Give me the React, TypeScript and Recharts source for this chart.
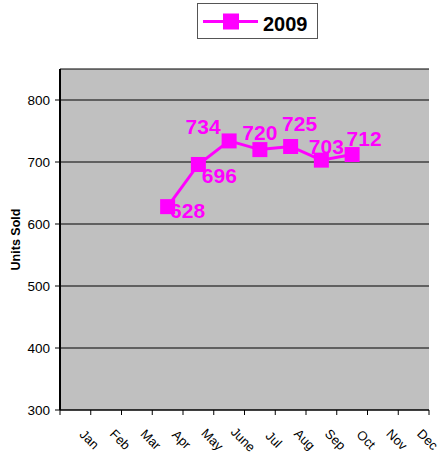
import React from 'react';
import { LineChart, Line, XAxis, YAxis, CartesianGrid, LabelList, Label } from 'recharts';

const months = ['Jan', 'Feb', 'Mar', 'Apr', 'May', 'June', 'Jul', 'Aug', 'Sep', 'Oct', 'Nov', 'Dec'];
const units2009: (number | null)[] = [null, null, null, 628, 696, 734, 720, 725, 703, 712, null, null];
const yTicks = [300, 400, 500, 600, 700, 800];
const seriesName = '2009';

// label placement (dx, dy) relative to each point — layout only
const labelOffsets: [number, number][] = [
  [0, 0], [0, 0], [0, 0],
  [20, 4], [21, 11], [-26, -14], [0, -17.5], [9, -23], [5, -14], [12, -16],
  [0, 0], [0, 0],
];

const data = months.map((m, i) => ({ month: m, v: units2009[i] }));

const W = 440;
const H = 457;
const M = { top: 69, right: 11, bottom: 0, left: 0 };
const Y_W = 60;
const X_H = 47;
const PLOT_W = W - M.left - M.right - Y_W;
const STEP = PLOT_W / months.length;
const MAGENTA = '#FF00FF';
const FONT = '"Liberation Sans", Arial, sans-serif';

const XTick = (props: any) => {
  const { x, y, payload, index } = props;
  const half = STEP / 2;
  const isLast = index === months.length - 1;
  const lx = x + 14;
  const ly = y + 29.5;
  return (
    <g>
      <line x1={x - half} x2={x - half} y1={y} y2={y + 5} stroke="#000" strokeWidth={1} />
      {isLast && <line x1={x + half} x2={x + half} y1={y} y2={y + 5} stroke="#000" strokeWidth={1} />}
      <text
        x={lx}
        y={ly}
        textAnchor="middle"
        dominantBaseline="central"
        transform={`rotate(45 ${lx} ${ly})`}
        fontFamily={FONT}
        fontSize={13}
        fill="#000"
      >
        {payload.value}
      </text>
    </g>
  );
};

const SquareDot = (props: any) => {
  const { cx, cy, payload } = props;
  if (cx == null || cy == null || payload?.v == null) return null;
  return <rect x={cx - 7.5} y={cy - 7.5} width={15} height={15} fill={MAGENTA} />;
};

const PointLabel = (props: any) => {
  const { x, y, value, index } = props;
  if (value == null || x == null || y == null) return null;
  const [dx, dy] = labelOffsets[index] || [0, 0];
  return (
    <text
      x={x + dx}
      y={y + dy}
      textAnchor="middle"
      dominantBaseline="central"
      fontFamily={FONT}
      fontWeight="bold"
      fontSize={21}
      fill={MAGENTA}
    >
      {value}
    </text>
  );
};

const YTitle = (props: any) => {
  const vb = props.viewBox || { x: 0, y: 0, width: 0, height: 0 };
  const cx = vb.x + 16;
  const cy = vb.y + vb.height / 2;
  return (
    <text
      x={cx}
      y={cy}
      textAnchor="middle"
      dominantBaseline="central"
      transform={`rotate(-90 ${cx} ${cy})`}
      fontFamily={FONT}
      fontWeight="bold"
      fontSize={12.5}
      fill="#000"
    >
      Units Sold
    </text>
  );
};

const LegendBox = () => (
  <div
    style={{
      position: 'absolute',
      left: 197,
      top: 3,
      width: 119,
      height: 34,
      border: '1px solid #555',
      background: '#fff',
      boxSizing: 'content-box',
    }}
  >
    <svg width={119} height={34} style={{ position: 'absolute', left: 0, top: 0 }}>
      <line x1={5} x2={60} y1={17.5} y2={17.5} stroke={MAGENTA} strokeWidth={3} />
      <rect x={25} y={9.5} width={16} height={16} fill={MAGENTA} />
      <text x={65} y={27} fontFamily={FONT} fontWeight="bold" fontSize={20} fill="#000">
        {seriesName}
      </text>
    </svg>
  </div>
);

export default function App() {
  return (
    <div style={{ position: 'absolute', left: 0, top: 0, width: W, height: H, background: '#fff' }}>
      <LineChart width={W} height={H} data={data} margin={M}>
        <CartesianGrid fill="#C0C0C0" stroke="#000" strokeWidth={1} vertical={false} />
        <XAxis
          dataKey="month"
          height={X_H}
          padding={{ left: STEP / 2, right: STEP / 2 }}
          interval={0}
          tickLine={false}
          tickSize={0}
          tickMargin={0}
          axisLine={{ stroke: '#000', strokeWidth: 1 }}
          tick={<XTick />}
        />
        <XAxis
          xAxisId="top"
          dataKey="month"
          orientation="top"
          height={0}
          tick={false}
          tickLine={false}
          padding={{ left: STEP / 2, right: STEP / 2 }}
          axisLine={{ stroke: '#808080', strokeWidth: 2 }}
        />
        <YAxis
          width={Y_W}
          domain={[300, 850]}
          ticks={yTicks}
          interval={0}
          allowDataOverflow
          tickSize={5}
          tickMargin={5}
          tickLine={{ stroke: '#000' }}
          axisLine={{ stroke: '#000', strokeWidth: 2 }}
          tick={{ fontFamily: FONT, fontSize: 13.5, fill: '#000' }}
        >
          <Label content={<YTitle />} />
        </YAxis>
        <YAxis
          yAxisId="right"
          orientation="right"
          width={0}
          domain={[300, 850]}
          tick={false}
          tickLine={false}
          axisLine={{ stroke: '#808080', strokeWidth: 2.5 }}
        />
        <Line
          dataKey="v"
          name={seriesName}
          stroke={MAGENTA}
          strokeWidth={3}
          dot={<SquareDot />}
          activeDot={false}
          isAnimationActive={false}
        >
          <LabelList dataKey="v" content={<PointLabel />} />
        </Line>
      </LineChart>
      <LegendBox />
    </div>
  );
}
